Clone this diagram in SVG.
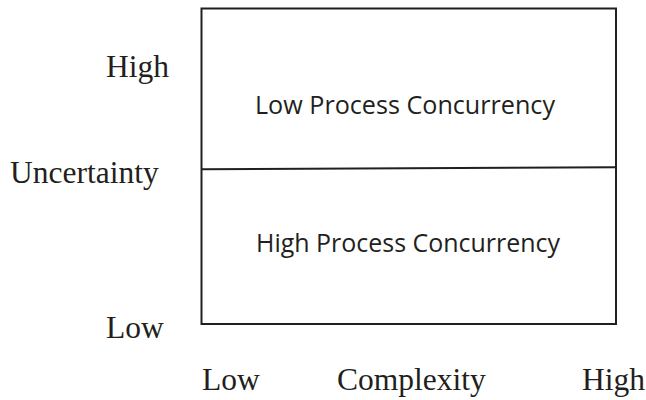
<svg xmlns="http://www.w3.org/2000/svg" width="646" height="400" viewBox="0 0 646 400">
<style>
.serif{font-family:"Liberation Serif","Times New Roman",serif;font-size:31.5px;fill:#231f20}
.sans{font-family:"Open Sans","Noto Sans",sans-serif;font-size:25.5px;fill:#231f20}
.ln{stroke:#231f20;stroke-width:2;fill:none}
</style>
<rect width="646" height="400" fill="#fff"/>
<g id="matrix">
<rect class="ln" x="201.5" y="8.5" width="414.5" height="315.5"/>
</g>
<g id="connectors">
<line class="ln" x1="201.5" y1="169.3" x2="616" y2="167.3"/>
</g>
<g id="low-concurrency">
<text class="sans" x="255" y="113.5" textLength="300" lengthAdjust="spacingAndGlyphs">Low Process Concurrency</text>
</g>
<g id="high-concurrency">
<text class="sans" x="256" y="252" textLength="304" lengthAdjust="spacingAndGlyphs">High Process Concurrency</text>
</g>
<g id="axis-labels">
<text class="serif" x="106" y="77">High</text>
<text class="serif" x="10" y="183">Uncertainty</text>
<text class="serif" x="106" y="338">Low</text>
<text class="serif" x="202" y="390">Low</text>
<text class="serif" x="337" y="390">Complexity</text>
<text class="serif" x="582" y="390">High</text>
</g>
</svg>
